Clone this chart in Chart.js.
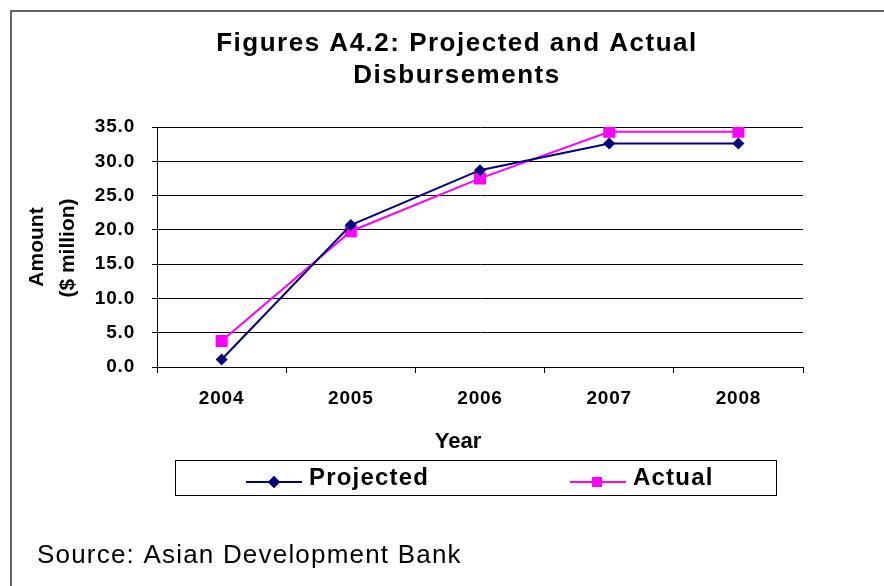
<!DOCTYPE html>
<html>
<head>
<meta charset="utf-8">
<script src="https://cdn.jsdelivr.net/npm/chart.js@4"></script>
<style>
  html, body { margin: 0; padding: 0; background: #fff; }
  #wrap { width: 884px; height: 586px; }
</style>
</head>
<body>
<div id="wrap"><canvas id="chart" width="884" height="586"></canvas></div>
<script>
// Figures A4.2 - projected vs actual disbursements
const years = ['2004', '2005', '2006', '2007', '2008'];
const projected = [1.1, 20.7, 28.7, 32.6, 32.6];
const actual = [3.8, 19.8, 27.5, 34.3, 34.3];
const titleLines = ['Figures A4.2: Projected and Actual', 'Disbursements'];
const yTitleLines = ['Amount', '($ million)'];
const xTitle = 'Year';
const sourceNote = 'Source: Asian Development Bank';

const FONT = '"Liberation Sans", Arial, sans-serif';
const NAVY = '#000080';
const MAGENTA = '#FF00FF';

// extra text, legend box and frame drawn around the chart
const decorations = {
  id: 'decorations',
  beforeDraw(chart) {
    const ctx = chart.ctx;
    ctx.save();
    ctx.fillStyle = '#fff';
    ctx.fillRect(0, 0, chart.width, chart.height);
    ctx.restore();
    // excel-like wide text for the tick labels
    ctx.letterSpacing = '0.8px';
  },
  afterDraw(chart) {
    const ctx = chart.ctx;
    ctx.save();

    // outer frame (top + left only)
    ctx.strokeStyle = '#333';
    ctx.lineWidth = 1.5;
    ctx.beginPath();
    ctx.moveTo(884, 11);
    ctx.lineTo(11, 11);
    ctx.lineTo(11, 586);
    ctx.stroke();

    ctx.fillStyle = '#000';
    ctx.textBaseline = 'alphabetic';

    // title
    ctx.letterSpacing = '1.5px';
    ctx.textAlign = 'center';
    ctx.font = 'bold 26px ' + FONT;
    ctx.fillText(titleLines[0], 457, 51);
    ctx.fillText(titleLines[1], 457, 83);

    // y axis title
    ctx.letterSpacing = '0px';
    ctx.font = 'bold 21px ' + FONT;
    ctx.save();
    ctx.translate(43, 247);
    ctx.rotate(-Math.PI / 2);
    ctx.fillText(yTitleLines[0], 0, 0);
    ctx.restore();
    ctx.save();
    ctx.translate(74, 248);
    ctx.rotate(-Math.PI / 2);
    ctx.fillText(yTitleLines[1], 0, 0);
    ctx.restore();

    // x axis title
    ctx.font = 'bold 22px ' + FONT;
    ctx.fillText(xTitle, 458, 448);

    // legend box
    ctx.strokeStyle = '#000';
    ctx.lineWidth = 1;
    ctx.strokeRect(175.5, 460.5, 601, 35);

    const ds = chart.data.datasets;
    const items = [
      { line: [246, 302], mark: 274, text: 309 },
      { line: [570, 626], mark: 597, text: 633 }
    ];
    items.forEach((it, i) => {
      const d = ds[i];
      ctx.strokeStyle = d.borderColor;
      ctx.lineWidth = 2;
      ctx.beginPath();
      ctx.moveTo(it.line[0], 482);
      ctx.lineTo(it.line[1], 482);
      ctx.stroke();
      ctx.fillStyle = d.pointBackgroundColor;
      Chart.helpers.drawPoint(ctx, {
        pointStyle: d.pointStyle,
        radius: i === 0 ? 6 : 7,
        borderWidth: 0
      }, it.mark, 482);
      ctx.fill();
      ctx.fillStyle = '#000';
      ctx.textAlign = 'left';
      ctx.letterSpacing = '1.2px';
      ctx.font = 'bold 24px ' + FONT;
      ctx.fillText(d.label, it.text, 485);
    });

    // source note
    ctx.letterSpacing = '1.2px';
    ctx.textAlign = 'left';
    ctx.font = '26px ' + FONT;
    ctx.fillText(sourceNote, 37, 563);

    ctx.restore();
  }
};

new Chart(document.getElementById('chart'), {
  type: 'line',
  data: {
    labels: years,
    datasets: [
      {
        label: 'Projected',
        data: projected,
        borderColor: NAVY,
        backgroundColor: NAVY,
        pointBackgroundColor: NAVY,
        pointBorderColor: NAVY,
        pointStyle: 'rectRot',
        pointRadius: 6,
        pointBorderWidth: 0,
        borderWidth: 2,
        tension: 0
      },
      {
        label: 'Actual',
        data: actual,
        borderColor: MAGENTA,
        backgroundColor: MAGENTA,
        pointBackgroundColor: MAGENTA,
        pointBorderColor: MAGENTA,
        pointStyle: 'rect',
        pointRadius: 8.5,
        pointBorderWidth: 0,
        borderWidth: 2,
        tension: 0
      }
    ]
  },
  options: {
    responsive: false,
    animation: false,
    devicePixelRatio: 1,
    layout: { padding: { top: 127, right: 81, bottom: 0, left: 0 } },
    plugins: {
      legend: { display: false },
      title: { display: false },
      tooltip: { enabled: false }
    },
    scales: {
      x: {
        offset: true,
        grid: {
          offset: true,
          drawOnChartArea: false,
          drawTicks: true,
          tickLength: 6,
          color: '#000'
        },
        border: { display: true, color: '#000', width: 1 },
        ticks: {
          color: '#000',
          padding: 14,
          font: { family: FONT, size: 19, weight: 'bold' }
        },
        afterFit(scale) { scale.height = 219; }
      },
      y: {
        min: 0,
        max: 35,
        grid: {
          color: '#000',
          lineWidth: 1,
          drawTicks: true,
          tickLength: 5
        },
        border: { display: true, color: '#000', width: 1 },
        ticks: {
          stepSize: 5,
          color: '#000',
          padding: 17,
          font: { family: FONT, size: 19, weight: 'bold' },
          callback: v => v.toFixed(1)
        },
        afterFit(scale) { scale.width = 157; }
      }
    }
  },
  plugins: [decorations]
});
</script>
</body>
</html>
